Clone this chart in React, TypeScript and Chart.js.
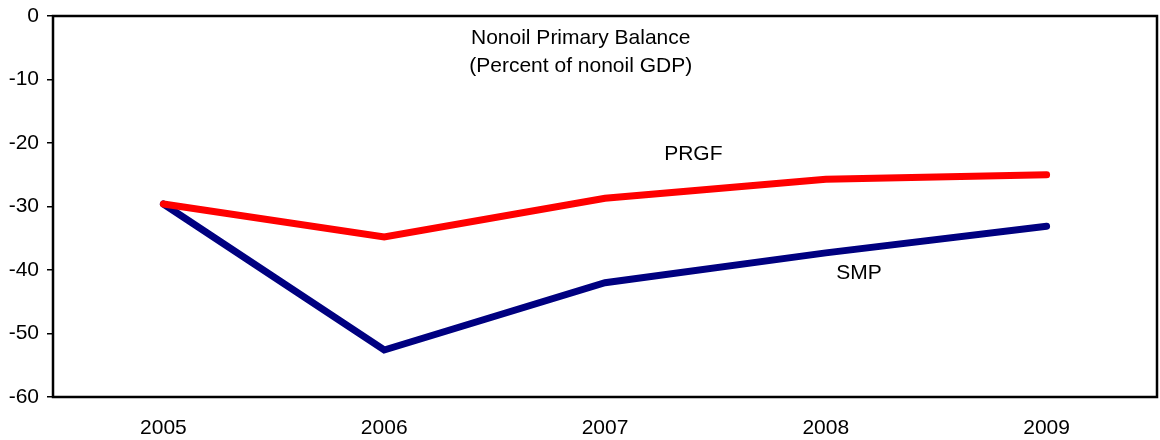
import React, { useEffect, useRef } from "react";
import { Chart, registerables } from "chart.js";

Chart.register(...registerables);

const years = ["2005", "2006", "2007", "2008", "2009"];
const prgf = [-29.6, -34.8, -28.7, -25.7, -25.0];
const smp = [-29.6, -52.6, -42.0, -37.3, -33.1];
const yMin = -60;
const yMax = 0;
const yStep = 10;
const titleLines = ["Nonoil Primary Balance", "(Percent of nonoil GDP)"];
// label anchors in data space: [category index, value]
const titleAnchor = [1.89, -3.45];
const titleLineGap = -4.4;
const prgfLabel = { text: "PRGF", at: [2.4, -21.7] };
const smpLabel = { text: "SMP", at: [3.15, -40.5] };

const FONT = "'Liberation Sans', Arial, sans-serif";
const FS = 21;

const overlay = {
  id: "overlay",
  afterDraw(chart: any) {
    const { ctx, chartArea, scales } = chart;
    const x = scales.x;
    const y = scales.y;
    ctx.save();
    ctx.strokeStyle = "#000";
    ctx.lineWidth = 2.5;
    ctx.strokeRect(
      chartArea.left,
      chartArea.top,
      chartArea.right - chartArea.left,
      chartArea.bottom - chartArea.top
    );
    ctx.fillStyle = "#000";
    ctx.font = `${FS}px ${FONT}`;
    ctx.textAlign = "center";
    ctx.textBaseline = "middle";
    titleLines.forEach((t, i) => {
      ctx.fillText(
        t,
        x.getPixelForValue(titleAnchor[0]),
        y.getPixelForValue(titleAnchor[1] + i * titleLineGap)
      );
    });
    [prgfLabel, smpLabel].forEach((l) => {
      ctx.fillText(l.text, x.getPixelForValue(l.at[0]), y.getPixelForValue(l.at[1]));
    });
    ctx.restore();
  },
};

export default function App() {
  const ref = useRef<HTMLCanvasElement | null>(null);
  useEffect(() => {
    if (!ref.current) return;
    const chart = new Chart(ref.current, {
      type: "line",
      data: {
        labels: years,
        datasets: [
          {
            label: "PRGF",
            data: prgf,
            borderColor: "#FF0000",
            backgroundColor: "#FF0000",
            borderWidth: 7,
            borderCapStyle: "round",
            borderJoinStyle: "miter",
            pointRadius: 0,
            tension: 0,
          },
          {
            label: "SMP",
            data: smp,
            borderColor: "#000080",
            backgroundColor: "#000080",
            borderWidth: 7,
            borderCapStyle: "round",
            borderJoinStyle: "miter",
            pointRadius: 0,
            tension: 0,
          },
        ],
      },
      options: {
        animation: false,
        responsive: true,
        maintainAspectRatio: false,
        layout: { padding: { top: 16, right: 3, left: 0, bottom: 0 } },
        plugins: { legend: { display: false }, tooltip: { enabled: false } },
        scales: {
          x: {
            offset: true,
            grid: { display: false, drawTicks: false },
            border: { display: false },
            ticks: { color: "#000", font: { family: FONT, size: FS }, padding: 19 },
            afterFit(scale: any) {
              scale.height = 43;
              scale.paddingLeft = 0;
              scale.paddingRight = 0;
            },
          },
          y: {
            min: yMin,
            max: yMax,
            grid: {
              display: true,
              drawOnChartArea: false,
              drawTicks: true,
              tickLength: 6,
              color: "#000",
              lineWidth: 1.5,
            },
            border: { display: false },
            ticks: {
              stepSize: yStep,
              color: "#000",
              font: { family: FONT, size: FS },
              padding: 8,
            },
            afterFit(scale: any) {
              scale.width = 53;
              scale.paddingTop = 0;
              scale.paddingBottom = 0;
            },
          },
        },
      },
      plugins: [overlay],
    } as any);
    return () => chart.destroy();
  }, []);
  return (
    <div style={{ position: "fixed", left: 0, top: 0, width: 1160, height: 440, background: "#fff" }}>
      <canvas ref={ref} />
    </div>
  );
}
